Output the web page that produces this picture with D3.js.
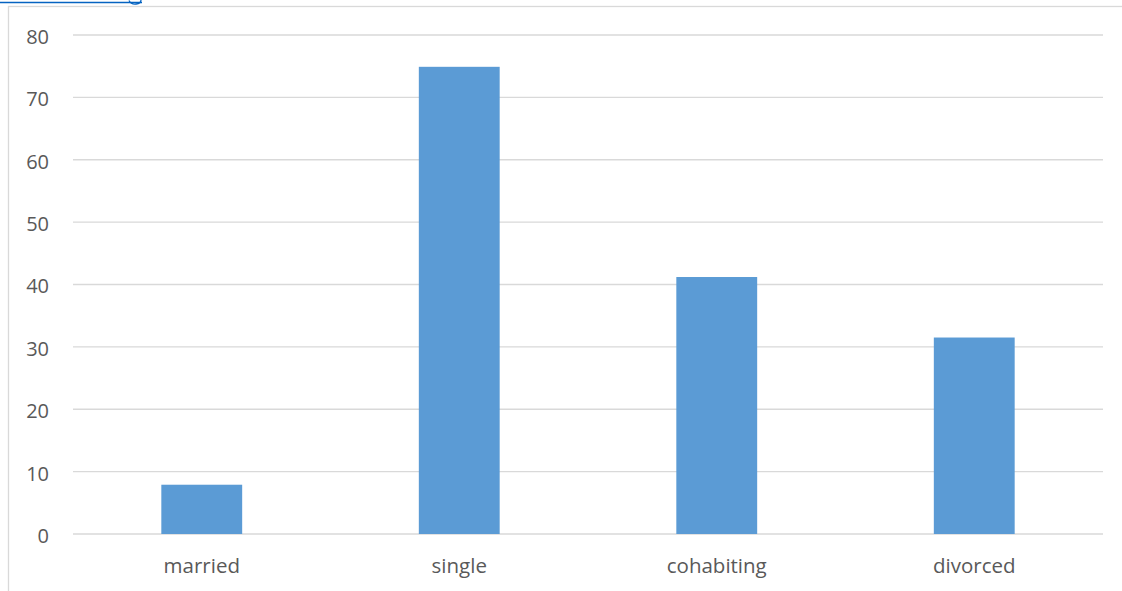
<!DOCTYPE html>
<html>
<head>
<meta charset="utf-8">
<script src="https://cdn.jsdelivr.net/npm/d3@7/dist/d3.min.js"></script>
<style>
  html, body { margin: 0; padding: 0; background: #fff; overflow: hidden; }
  svg { display: block; }
</style>
</head>
<body>
<svg id="chart" width="1122" height="591"></svg>
<script>
// Relationship status categories and their values
const categories = ["married", "single", "cohabiting", "divorced"];
const values = [7.9, 74.9, 41.2, 31.5];
const yTicks = [0, 10, 20, 30, 40, 50, 60, 70, 80];

const W = 1122, H = 591;
const plot = { left: 73, right: 1103, top: 35, bottom: 534 };

const svg = d3.select("#chart");

// Underline of a hyperlink running along the top edge, above the chart frame
svg.append("line")
  .attr("x1", 0).attr("x2", 142)
  .attr("y1", 2.5).attr("y2", 2.5)
  .attr("stroke", "#0563C1").attr("stroke-width", 1.3);
svg.append("path")
  .attr("d", "M129,0.5 Q131,4.5 136,4 Q141,3.5 141,0")
  .attr("fill", "none")
  .attr("stroke", "#0563C1").attr("stroke-width", 1.3);

// Chart frame (runs off the right and bottom edges)
svg.append("rect")
  .attr("x", 8.5).attr("y", 6.5)
  .attr("width", W + 10).attr("height", H + 10)
  .attr("fill", "none")
  .attr("stroke", "#d9d9d9").attr("stroke-width", 1.3);

const x = d3.scaleBand()
  .domain(categories)
  .range([plot.left, plot.right])
  .paddingInner(0.686)
  .paddingOuter(0.343);

const y = d3.scaleLinear()
  .domain([0, 80])
  .range([plot.bottom, plot.top]);

// Horizontal gridlines
svg.append("g")
  .selectAll("line")
  .data(yTicks)
  .join("line")
  .attr("x1", plot.left).attr("x2", plot.right)
  .attr("y1", d => y(d)).attr("y2", d => y(d))
  .attr("stroke", "#d9d9d9").attr("stroke-width", 1.3);

// Y axis labels
const yAxis = d3.axisLeft(y).tickValues(yTicks).tickSize(0).tickPadding(0);
const gy = svg.append("g")
  .attr("transform", `translate(49,0)`)
  .call(yAxis);
gy.select(".domain").remove();
gy.selectAll("text")
  .attr("font-family", "'Open Sans', sans-serif")
  .attr("font-size", 20)
  .attr("fill", "#595959")
  .attr("dy", "0.42em");

// Bars
svg.append("g")
  .selectAll("rect")
  .data(values)
  .join("rect")
  .attr("x", (d, i) => x(categories[i]))
  .attr("width", x.bandwidth())
  .attr("y", d => y(d))
  .attr("height", d => y(0) - y(d))
  .attr("fill", "#5B9BD5");

// Category labels
const xAxis = d3.axisBottom(x).tickSize(0).tickPadding(0);
const gx = svg.append("g")
  .attr("transform", `translate(0,${plot.bottom})`)
  .call(xAxis);
gx.select(".domain").remove();
gx.selectAll("text")
  .attr("font-family", "'Open Sans', sans-serif")
  .attr("font-size", 20.5)
  .attr("fill", "#595959")
  .attr("y", 38.5)
  .attr("dy", 0);
</script>
</body>
</html>
